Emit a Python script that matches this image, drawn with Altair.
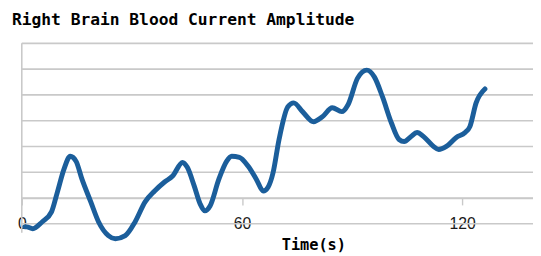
import altair as alt
import pandas as pd

# Curve (time in s, amplitude in grid units)
time_s = [0.8, 1.3, 3.0, 5.6, 8.1, 9.7, 11.5, 13.2, 14.8, 16.4, 18.8, 20.9, 23.6, 25.5,
          28.2, 30.9, 33.6, 36.2, 38.9, 41.1, 43.8, 45.1, 47.0, 48.6, 49.9, 51.3, 53.7,
          55.8, 57.2, 59.3, 61.7, 63.9, 65.8, 67.1, 68.5, 70.1, 72.5, 74.1, 76.5, 79.5,
          81.9, 84.6, 87.2, 88.9, 91.5, 94.0, 96.1, 98.3, 100.7, 102.8, 104.2, 106.0,
          107.7, 109.5, 112.2, 113.6, 115.7, 118.4, 120.8, 122.1, 123.8, 126.2]
amplitude = [-0.12, -0.12, -0.19, 0.08, 0.46, 1.23, 2.12, 2.62, 2.42, 1.73, 0.85, 0.08,
             -0.46, -0.58, -0.46, 0.08, 0.85, 1.27, 1.62, 1.85, 2.38, 2.19, 1.46, 0.77,
             0.50, 0.69, 1.73, 2.42, 2.62, 2.58, 2.23, 1.73, 1.27, 1.42, 2.0, 3.27, 4.54,
             4.69, 4.35, 3.96, 4.15, 4.5, 4.35, 4.62, 5.65, 5.96, 5.69, 4.92, 3.92, 3.27,
             3.19, 3.38, 3.54, 3.38, 3.0, 2.88, 3.0, 3.35, 3.54, 3.77, 4.69, 5.23]
grid_levels = [0, 1, 2, 3, 4, 5, 6, 7]
x_ticks = [0, 60, 120]

X_MAX = 139.3
curve = pd.DataFrame({"t": time_s, "v": amplitude})
grid = pd.DataFrame({"g": grid_levels, "x0": 0.0, "x1": X_MAX})
left = pd.DataFrame({"x": [0.0], "y0": [-0.35], "y1": [7.0]})

xs = alt.Scale(domain=[0, X_MAX], nice=False, zero=False)
ys = alt.Scale(domain=[1, 7], nice=False, zero=False)

GRID = "#c9c9c9"

gridlines = alt.Chart(grid).mark_rule(color=GRID, strokeWidth=1.6).encode(
    x=alt.X("x0:Q", scale=xs, axis=alt.Axis(
        values=x_ticks, title="Time(s)", grid=False,
        domainColor=GRID, domainWidth=1.6, tickColor=GRID, tickWidth=1.4, tickSize=7,
        labelFont="Liberation Sans", labelFontSize=16, labelColor="#1a1a1a",
        labelPadding=11, labelFlush=False,
        titleFont="DejaVu Sans Mono", titleFontWeight="bold", titleFontSize=15.5,
        titleColor="#000000", titleX=296, titleY=52, titleBaseline="alphabetic")),
    x2="x1:Q",
    y=alt.Y("g:Q", scale=ys, axis=None),
)

leftline = alt.Chart(left).mark_rule(color=GRID, strokeWidth=1.6).encode(
    x=alt.X("x:Q", scale=xs),
    y=alt.Y("y0:Q", scale=ys),
    y2="y1:Q",
)

line = alt.Chart(curve).mark_line(
    color="#1b5e9b", strokeWidth=5, interpolate="monotone", strokeCap="round",
    strokeJoin="round", clip=False
).encode(
    x=alt.X("t:Q", scale=xs),
    y=alt.Y("v:Q", scale=ys),
)

chart = alt.layer(gridlines, leftline, line).properties(
    width=519, height=157,
    padding={"left": 14, "top": 34, "right": 0, "bottom": 57},
    autosize=alt.AutoSizeParams(type="none"),
    title=alt.TitleParams(
        "Right Brain Blood Current Amplitude", anchor="start", frame="group",
        font="DejaVu Sans Mono", fontWeight="bold", fontSize=16.5, color="#000000",
        dx=-10, dy=12, offset=13, baseline="alphabetic"),
).configure_view(stroke=None)

chart.save("out.html", embed_options={"renderer": "svg", "actions": False})
